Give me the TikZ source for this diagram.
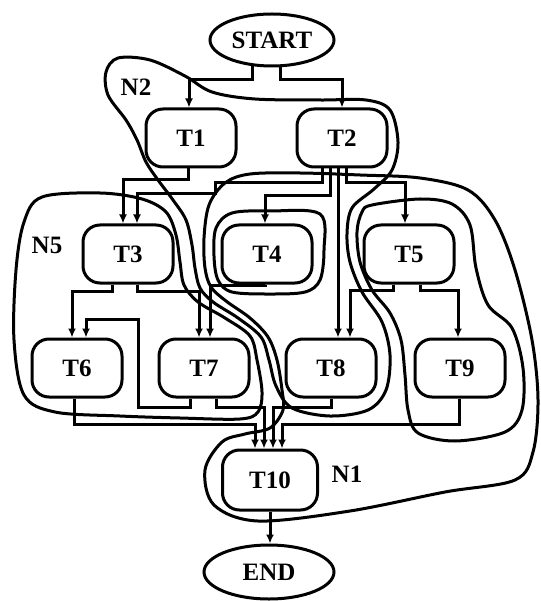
\documentclass[tikz,border=0pt]{standalone}
\usepackage{fontspec}
\setmainfont{Liberation Serif}
\usetikzlibrary{arrows.meta,calc,shapes.geometric}
\pgfdeclarelayer{background}
\pgfdeclarelayer{paper}
\pgfsetlayers{paper,background,main}
\begin{document}
\begin{tikzpicture}[x=1pt,y=-1pt,
  lw/.style={line width=3pt},
  txt/.style={font=\fontsize{25}{25}\selectfont\bfseries},
  task/.style={draw,lw,rounded corners=17pt,minimum width=90pt,minimum height=58pt,fill=white,txt,inner sep=0pt},
  termnode/.style={draw,lw,ellipse,minimum width=124pt,minimum height=52pt,fill=white,txt,inner sep=0pt},
  conn/.style={lw,-{Latex[length=9pt,width=8pt]}},
  clus/.style={lw,line join=round}
]
\begin{pgfonlayer}{paper}
\fill[white] (0,0) rectangle (540,601);
\end{pgfonlayer}
\useasboundingbox (0,0) rectangle (540,601);

% nodes
\node[termnode] (st) at (272,40) {START};
\node[task] (t1) at (191,138) {T1};
\node[task] (t2) at (342,138) {T2};
\node[task] (t3) at (128,254) {T3};
\node[task] (t4) at (267,254) {T4};
\node[task] (t5) at (409,254) {T5};
\node[task] (t6) at (77,368) {T6};
\node[task] (t7) at (204,368) {T7};
\node[task] (t8) at (331,368) {T8};
\node[task] (t9) at (460,368) {T9};
\node[task,minimum width=95pt,minimum height=60pt] (t10) at (270,480) {T10};
\node[termnode,minimum width=130pt,minimum height=54pt] (fin) at (269,572) {END};

\node[txt] (n2) at (136,87) {N2};
\node[txt] (n5) at (47,245) {N5};
\node[txt] (n1) at (347,474) {N1};

\begin{pgfonlayer}{background}
% connectors
\draw[conn] ($(st)+(-20,0)$) |- ($(t1.north)+(-2,-28)$) -- ($(t1.north)+(-2,0)$);
\draw[conn] ($(st)+(8,0)$) |- ($(t2.north)+(0,-28)$) -- (t2.north);
\draw[conn] ($(t1.south)+(-3,0)$) |- ($(t3.north)+(-5,-44)$) -- ($(t3.north)+(-5,0)$);
\draw[conn] ($(t2.south)+(-20,0)$) |- ($(t3.north)+(87,-41)$) |- ($(t3.north)+(9,-30)$) -- ($(t3.north)+(9,0)$);
\draw[conn] ($(t2.south)+(-12,0)$) |- ($(t4.north)+(-2,-28)$) -- ($(t4.north)+(-2,0)$);
\draw[conn] ($(t2.south)+(-4,0)$) -- ($(t8.north)+(7,0)$);
\draw[conn] ($(t2.south)+(4,0)$) |- ($(t5.north)+(-4,-41)$) -- ($(t5.north)+(-4,0)$);
\draw[conn] ($(t3.south)+(-16,0)$) |- ($(t6.north)+(-5,-46)$) -- ($(t6.north)+(-5,0)$);
\draw[conn] ($(t3.south)+(9,0)$) |- ($(t7.north)+(-5,-46)$) -- ($(t7.north)+(-5,0)$);
\draw[conn] ($(t4.south)+(-2,0)$) |- ($(t7.north)+(6,-52)$) -- ($(t7.north)+(6,0)$);
\draw[conn] ($(t5.south)+(-16,0)$) |- ($(t8.north)+(19,-47)$) -- ($(t8.north)+(19,0)$);
\draw[conn] ($(t5.south)+(11,0)$) |- ($(t9.north)+(-2,-47)$) -- ($(t9.north)+(-2,0)$);
\draw[conn] ($(t7.south)+(-14,0)$) |- ($(t6.north)+(61,70)$) |- ($(t6.north)+(9,-18)$) -- ($(t6.north)+(9,0)$);
\draw[conn] ($(t7.south)+(12,0)$) |- ($(t10.north)+(-6,-41)$) -- ($(t10.north)+(-6,0)$);
\draw[conn] ($(t6.south)+(-3,0)$) |- ($(t10.north)+(-15,-24)$) -- ($(t10.north)+(-15,0)$);
\draw[conn] (t8.south) |- ($(t10.north)+(3,-41)$) -- ($(t10.north)+(3,0)$);
\draw[conn] ($(t9.south)+(-1,0)$) |- ($(t10.north)+(12,-24)$) -- ($(t10.north)+(12,0)$);
\draw[conn] (t10.south) -- (t10.south |- fin.north);

% cluster outlines
% N2
\draw[clus] plot[smooth cycle, tension=0.55] coordinates {
 (118,58) (150,60) (185,76) (212,92) (255,99) (320,100) (366,100) (390,110) (398,142) (392,170)
 (374,189) (352,208) (347,234) (350,262) (362,292) (382,322) (390,355) (386,390) (368,410)
 (330,416) (292,408) (276,386) (269,360) (261,337) (238,318) (213,302) (200,288) (195,268)
 (192,245) (186,220) (173,200) (158,180) (146,162) (137,140) (126,120) (108,95) (106,72)};
% N5
\draw[clus] plot[smooth cycle, tension=0.55] coordinates {
 (42,197) (100,193) (142,199) (166,212) (176,235) (180,262) (184,285) (198,302) (225,318)
 (250,336) (257,360) (262,392) (258,412) (240,419) (180,418) (120,416) (55,412) (24,395)
 (14,340) (16,270) (24,222)};
% N1
\draw[clus] plot[smooth cycle, tension=0.55] coordinates {
 (222,442) (205,470) (214,505) (258,521) (350,511) (445,492) (515,480) (533,452) (538,400)
 (532,340) (515,270) (495,220) (468,190) (420,178) (360,175) (300,173) (250,174) (225,183)
 (209,205) (204,238) (205,268) (211,287) (226,301) (250,318) (268,337) (277,360) (282,390)
 (283,410) (270,428) (245,434)};
% T4 cluster
\draw[clus] plot[smooth cycle, tension=0.55] coordinates {
 (320,214) (270,211) (232,213) (216,228) (214,256) (218,280) (232,292) (270,294) (305,292)
 (320,280) (324,250)};
% T5/T9 cluster
\draw[clus] plot[smooth cycle, tension=0.55] coordinates {
 (372,205) (420,199) (452,204) (470,225) (476,268) (488,305) (512,328) (523,368) (522,410)
 (505,432) (455,441) (418,433) (408,410) (405,375) (401,340) (390,313) (372,290) (360,262)
 (357,232) (362,212)};
\end{pgfonlayer}
\end{tikzpicture}
\end{document}
